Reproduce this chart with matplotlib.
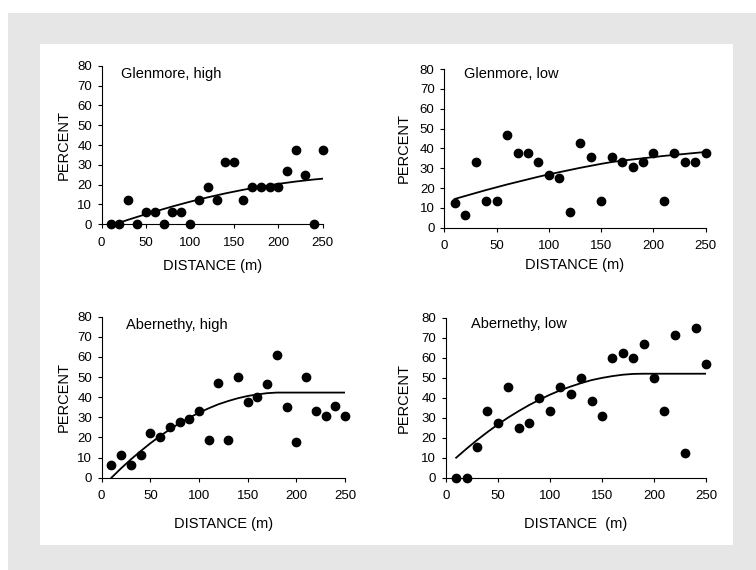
import numpy as np
import matplotlib
matplotlib.use("Agg")
import matplotlib.pyplot as plt
from matplotlib.patches import Rectangle

plt.rcParams['font.family'] = ['Liberation Sans', 'DejaVu Sans']

# distance classes (m)
dist = [10, 20, 30, 40, 50, 60, 70, 80, 90, 100, 110, 120, 130,
        140, 150, 160, 170, 180, 190, 200, 210, 220, 230, 240, 250]

# observed percentages
glen_high = [0, 0, 12.5, 0, 6.25, 6.25, 0, 6.25, 6.25, 0, 12.5, 18.75, 12.5,
             31.25, 31.25, 12.5, 18.75, 18.75, 18.75, 18.75, 26.7, 37.5, 25, 0, 37.5]
glen_low = [12.5, 6.25, 33.3, 13.3, 13.3, 46.7, 37.5, 37.5, 33.3, 26.7, 25, 7.7, 42.9,
            35.7, 13.3, 35.7, 33.3, 30.8, 33.3, 37.5, 13.3, 37.5, 33.3, 33.3, 37.5]
aber_high = [6.25, 11.1, 6.25, 11.1, 22.2, 20, 25, 27.8, 29.4, 33.3, 18.75, 47.1, 18.75,
             50, 37.5, 40, 46.7, 61.1, 35.3, 17.6, 50, 33.3, 30.8, 35.7, 30.8]
aber_low = [0, 0, 15.4, 33.3, 27.3, 45.5, 25, 27.3, 40, 33.3, 45.5, 41.7, 50,
            38.5, 30.8, 60, 62.5, 60, 66.7, 50, 33.3, 71.4, 12.5, 75, 57.1]

# fitted curves
glen_high_fit_x = dist[1:]
glen_high_fit = [0.8, 2.3, 3.7, 5.1, 6.4, 7.7, 9.0, 10.2, 11.4, 12.5, 13.6, 14.6,
                 15.6, 16.5, 17.4, 18.2, 19.0, 19.7, 20.4, 21.0, 21.6, 22.1, 22.6, 23.0]
glen_low_fit = [14.5, 16.0, 17.5, 19.0, 20.4, 21.8, 23.1, 24.4, 25.7, 26.9, 28.0, 29.1, 30.2,
                31.2, 32.2, 33.1, 33.8, 34.4, 35.0, 35.6, 36.2, 36.7, 37.2, 37.7, 38.2]
aber_high_fit = [0, 4.7, 9.1, 13.2, 17.1, 20.7, 24.0, 27.1, 29.8, 32.3, 34.5, 36.5, 38.1,
                 39.5, 40.6, 41.4, 42.0, 42.3, 42.3, 42.3, 42.3, 42.3, 42.3, 42.3, 42.3]
aber_low_fit = [10, 14.5, 18.8, 22.8, 26.6, 30.1, 33.3, 36.3, 39.0, 41.5, 43.7, 45.6, 47.3,
                48.8, 49.9, 50.8, 51.5, 51.9, 52, 52, 52, 52, 52, 52, 52]

titles = ["Glenmore, high", "Glenmore, low", "Abernethy, high", "Abernethy, low"]
xlabels = ["DISTANCE (m)", "DISTANCE (m)", "DISTANCE (m)", "DISTANCE  (m)"]

fig = plt.figure(figsize=(7.56, 5.7), dpi=100)
fig.patch.set_facecolor("white")
# gray frame and white panel
fig.patches.append(Rectangle((8/756, 0), 748/756, 557/570, transform=fig.transFigure,
                             facecolor="#e6e6e6", edgecolor="none", zorder=-2))
fig.patches.append(Rectangle((40/756, 25/570), 693/756, 501/570, transform=fig.transFigure,
                             facecolor="white", edgecolor="none", zorder=-1))

boxes = [[0.1345, 0.6065, 0.2923, 0.2782],
         [0.5877, 0.6005, 0.3458, 0.2784],
         [0.1345, 0.1619, 0.3218, 0.2825],
         [0.5896, 0.1619, 0.3443, 0.2807]]
obs = [glen_high, glen_low, aber_high, aber_low]
fits_x = [glen_high_fit_x, dist, dist, dist]
fits = [glen_high_fit, glen_low_fit, aber_high_fit, aber_low_fit]
title_pos = [(22, 76), (19, 77.5), (25, 76), (24.3, 76.8)]
ylab_x = [-0.139, -0.127, -0.126, -0.133]
xlab_y = [-0.219, -0.19, -0.244, -0.245]

for i in range(4):
    ax = fig.add_axes(boxes[i])
    ax.plot(dist, obs[i], "o", color="black", markersize=6, clip_on=False, zorder=3)
    ax.plot(fits_x[i], fits[i], "-", color="black", linewidth=1.3, zorder=2)
    ax.set_xlim(0, 250)
    ax.set_ylim(0, 80)
    ax.set_xticks([0, 50, 100, 150, 200, 250])
    ax.set_yticks(np.arange(0, 81, 10))
    ax.spines["top"].set_visible(False)
    ax.spines["right"].set_visible(False)
    ax.spines["left"].set_linewidth(0.8)
    ax.spines["bottom"].set_linewidth(0.8)
    ax.tick_params(direction="out", length=3, width=0.8, labelsize=9.5)
    ax.tick_params(axis="x", pad=6)
    ax.tick_params(axis="y", pad=4)
    ax.set_xlabel(xlabels[i], fontsize=10.5)
    ax.set_ylabel("PERCENT", fontsize=10.5)
    ax.yaxis.set_label_coords(ylab_x[i], 0.5)
    ax.xaxis.set_label_coords(0.5, xlab_y[i])
    ax.text(title_pos[i][0], title_pos[i][1], titles[i], fontsize=10.5, va="center", ha="left")
    ax.patch.set_alpha(0)

plt.savefig("out.png", dpi=100)
